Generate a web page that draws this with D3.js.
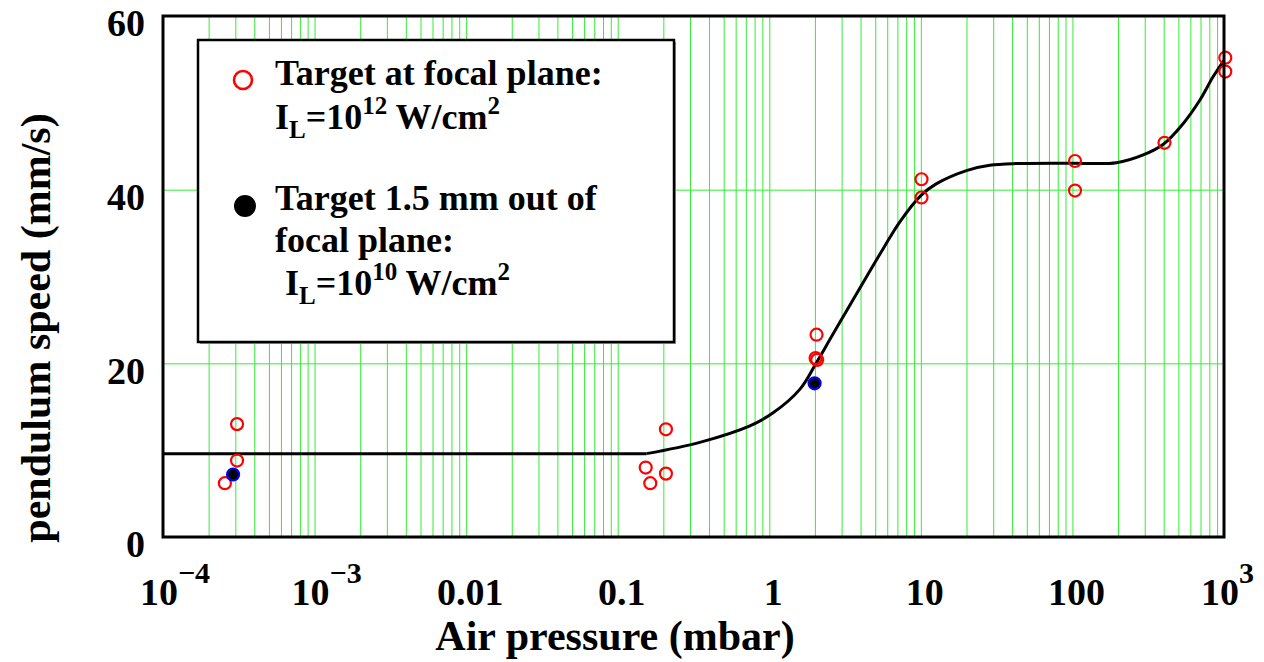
<!DOCTYPE html>
<html>
<head>
<meta charset="utf-8">
<script src="https://cdn.jsdelivr.net/npm/d3@7"></script>
<style>
  html, body { margin: 0; padding: 0; background: #fff; }
  svg text { font-family: "Liberation Serif", "Times New Roman", serif; font-weight: bold; fill: #000; }
</style>
</head>
<body>
<svg id="chart" width="1264" height="662"></svg>
<script>
// Target at focal plane (I_L = 1e12 W/cm^2)
const focalPressure = [2.56e-4, 3.08e-4, 3.08e-4, 0.153, 0.164, 0.208, 0.208, 2.05, 2.02, 2.07, 10.1, 10.1, 104, 104, 405, 1020, 1020];
const focalSpeed    = [6.2, 13.0, 8.8, 8.0, 6.2, 12.4, 7.3, 23.3, 20.6, 20.4, 41.2, 39.1, 43.3, 39.9, 45.4, 55.2, 53.6];

// Target 1.5 mm out of focal plane (I_L = 1e10 W/cm^2)
const outPressure = [2.9e-4, 1.99];
const outSpeed    = [7.2, 17.7];

// Guide curve: flat low-pressure level, then the rising trend
const flatPressure = [1e-4, 0.155];
const flatSpeed    = [9.6, 9.6];
const fitPressure = [0.155, 0.348, 0.745, 1.06, 1.59, 2.05, 2.64, 5.64, 7.27, 10.1, 12.7, 20.0, 28.5, 42.8, 100, 195, 293, 396, 537, 692, 847, 1000];
const fitSpeed    = [9.6, 10.9, 12.8, 14.3, 17.0, 20.1, 23.4, 33.2, 36.3, 39.4, 40.7, 42.2, 42.8, 43.0, 43.05, 43.1, 44.0, 45.2, 47.6, 50.3, 53.0, 54.9];

// Axis ticks
const xMajorTicks = [1e-4, 1e-3, 0.01, 0.1, 1, 10, 100, 1000];
const xTickLabels = [["10", "\u22124"], ["10", "\u22123"], ["0.01"], ["0.1"], ["1"], ["10"], ["100"], ["10", "3"]];
const yTicks = [0, 20, 40, 60];

const margin = { left: 163, top: 16, right: 40, bottom: 125 };
const W = 1264, H = 662;
const iw = W - margin.left - margin.right;
const ih = H - margin.top - margin.bottom;

const svg = d3.select("#chart");
const g = svg.append("g").attr("transform", `translate(${margin.left},${margin.top})`);

const x = d3.scaleLog().domain([1e-4, 1e3]).range([0, iw]);
const y = d3.scaleLinear().domain([0, 60]).range([ih, 0]);

// Grid lines
const gridColor = "#33ee33";
g.append("g").attr("class", "xgrid")
  .attr("transform", `translate(0,${ih})`)
  .call(d3.axisBottom(x).tickValues(x.ticks()).tickSize(-ih).tickFormat(""))
  .call(s => s.select(".domain").remove())
  .call(s => s.selectAll("line").attr("stroke", gridColor).attr("stroke-width", 1));
g.append("g").attr("class", "ygrid")
  .call(d3.axisLeft(y).tickValues([20, 40]).tickSize(-iw).tickFormat(""))
  .call(s => s.select(".domain").remove())
  .call(s => s.selectAll("line").attr("stroke", gridColor).attr("stroke-width", 1));

// Legend box (drawn over grid)
const leg = g.append("g").attr("transform", `translate(${198 - margin.left},${40 - margin.top})`);
leg.append("rect").attr("x", 2).attr("y", 2).attr("width", 476).attr("height", 302).attr("fill", "#999");
leg.append("rect").attr("width", 476).attr("height", 302).attr("fill", "#fff").attr("stroke", "#000").attr("stroke-width", 2.5);
leg.append("circle").attr("cx", 45).attr("cy", 40).attr("r", 9).attr("fill", "none").attr("stroke", "#f00").attr("stroke-width", 2.6);
leg.append("circle").attr("cx", 47).attr("cy", 166).attr("r", 11).attr("fill", "#000");

function legendLine(tx, ty, parts) {
  const t = leg.append("text").attr("x", tx).attr("y", ty).style("font-size", "36px");
  parts.forEach(p => {
    const ts = t.append("tspan").text(p.t);
    if (p.sub) ts.attr("dy", 9).style("font-size", "25px");
    if (p.sup) ts.attr("dy", -15).style("font-size", "25px");
    if (p.back) ts.attr("dy", p.back);
  });
}
legendLine(77, 45, [{ t: "Target at focal plane:" }]);
legendLine(77, 89, [{ t: "I" }, { t: "L", sub: true }, { t: "=10", back: -9 }, { t: "12", sup: true }, { t: " W/cm", back: 15 }, { t: "2", sup: true }]);
legendLine(77, 170, [{ t: "Target 1.5 mm out of" }]);
legendLine(77, 212, [{ t: "focal plane:" }]);
legendLine(87, 255, [{ t: "I" }, { t: "L", sub: true }, { t: "=10", back: -9 }, { t: "10", sup: true }, { t: " W/cm", back: 15 }, { t: "2", sup: true }]);

// Guide curve
const lineGen = d3.line().x(d => x(d[0])).y(d => y(d[1]));
g.append("path").datum(flatPressure.map((p, i) => [p, flatSpeed[i]]))
  .attr("fill", "none").attr("stroke", "#000").attr("stroke-width", 3)
  .attr("d", lineGen);
g.append("path").datum(fitPressure.map((p, i) => [p, fitSpeed[i]]))
  .attr("fill", "none").attr("stroke", "#000").attr("stroke-width", 3).attr("stroke-linejoin", "round")
  .attr("d", lineGen.curve(d3.curveCatmullRom.alpha(0.5)));

// Data points
g.append("g").selectAll("circle").data(focalPressure.map((p, i) => [p, focalSpeed[i]]))
  .join("circle")
  .attr("cx", d => x(d[0])).attr("cy", d => y(d[1])).attr("r", 6)
  .attr("fill", "none").attr("stroke", "#f00").attr("stroke-width", 2.2);
g.append("g").selectAll("circle").data(outPressure.map((p, i) => [p, outSpeed[i]]))
  .join("circle")
  .attr("cx", d => x(d[0])).attr("cy", d => y(d[1])).attr("r", 6)
  .attr("fill", "#000").attr("stroke", "#00f").attr("stroke-width", 2.2);

// Frame
g.append("rect").attr("width", iw).attr("height", ih)
  .attr("fill", "none").attr("stroke", "#000").attr("stroke-width", 3);

// Y axis labels
g.append("g")
  .call(d3.axisLeft(y).tickValues(yTicks).tickSize(0).tickPadding(18))
  .call(s => s.select(".domain").remove())
  .call(s => s.selectAll("text").style("font-size", "38px").attr("dy", "0.52em")
    .style("font-family", "'Liberation Serif', 'Times New Roman', serif").style("font-weight", "bold"));

// X axis labels with superscripts
const xl = g.append("g").attr("transform", `translate(0,${ih + 68})`);
xMajorTicks.forEach((v, i) => {
  const lab = xTickLabels[i];
  if (lab.length === 1) {
    xl.append("text").attr("x", x(v) + 4).attr("text-anchor", "middle").style("font-size", "38px").text(lab[0]);
  } else {
    const t = xl.append("text").attr("x", x(v) - 23).attr("text-anchor", "start").style("font-size", "38px");
    t.append("tspan").text(lab[0]);
    t.append("tspan").attr("dy", -22).style("font-size", "30px").text(lab[1]);
  }
});

// Axis titles
svg.append("text").attr("x", 615).attr("y", 650).attr("text-anchor", "middle")
  .style("font-size", "42px").text("Air pressure (mbar)");
svg.append("text").attr("transform", "translate(50,328) rotate(-90)").attr("text-anchor", "middle")
  .style("font-size", "42px").text("pendulum speed (mm/s)");
</script>
</body>
</html>
